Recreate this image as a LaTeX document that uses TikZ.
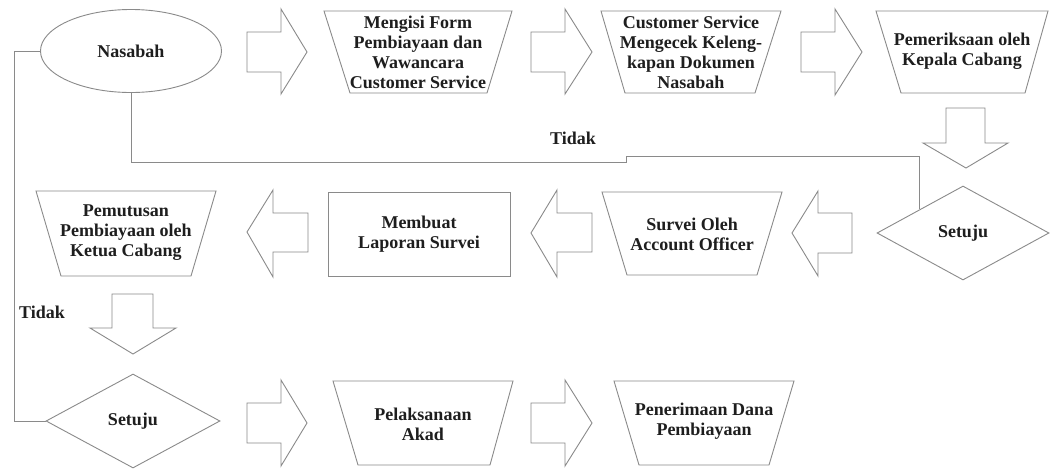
\documentclass[tikz,border=0pt]{standalone}
\usepackage{fontspec}
\setmainfont{Liberation Serif}
\usetikzlibrary{shapes.geometric}
\definecolor{linec}{HTML}{8A8A8A}
\definecolor{textc}{HTML}{1E1E1E}
\tikzset{
  shp/.style={draw=linec, line width=0.9pt, line join=miter},
  conn/.style={draw=linec, line width=0.9pt},
  lbl/.style={text=textc, font=\bfseries\fontsize{18}{20}\selectfont, align=center, inner sep=0pt},
}
\begin{document}
\begin{tikzpicture}[x=1pt,y=-1pt]
\useasboundingbox[fill=white] (0,0) rectangle (1050,469);

% start node
\node[shp, ellipse, minimum width=181pt, minimum height=83pt, inner sep=0pt, lbl] (nas) at (131,51) {Nasabah};

% top row trapezoids
\draw[shp] (324,11) -- (512,11) -- (487,93) -- (350,93) -- cycle;
\node[lbl] (t1) at (418,52) {Mengisi Form\\Pembiayaan dan\\Wawancara\\Customer Service};
\draw[shp] (601,11) -- (781,11) -- (755,93) -- (625,93) -- cycle;
\node[lbl] (t2) at (691,52) {Customer Service\\Mengecek Keleng-\\kapan Dokumen\\Nasabah};
\draw[shp] (876,11) -- (1048,11) -- (1025,93) -- (901,93) -- cycle;
\node[lbl] (t3) at (962,51) {Pemeriksaan oleh\\Kepala Cabang};

% block arrows top row
\draw[shp] (247,32) -- (281,32) -- (281,9) -- (307,52) -- (281,94) -- (281,72) -- (247,72) -- cycle;
\draw[shp] (531,32) -- (565,32) -- (565,9) -- (592,52) -- (565,94) -- (565,72) -- (531,72) -- cycle;
\draw[shp] (801,32) -- (835,32) -- (835,9) -- (862,52) -- (835,95) -- (835,72) -- (801,72) -- cycle;
% down arrow 1
\draw[shp] (946,108) -- (985,108) -- (985,143) -- (1008,143) -- (966,168) -- (923,143) -- (946,143) -- cycle;

% decision 1
\node[shp, diamond, aspect=1.83, minimum width=172pt, minimum height=94pt, inner sep=0pt, lbl] (d1) at (963,233) {Setuju};

% middle row
\draw[shp] (852,213) -- (818,213) -- (818,191) -- (792,233) -- (818,276) -- (818,253) -- (852,253) -- cycle;
\draw[shp] (602,192) -- (782,192) -- (757,275) -- (627,275) -- cycle;
\node[lbl] (t4) at (692,234) {Survei Oleh\\Account Officer};
\draw[shp] (592,213) -- (557,213) -- (557,190) -- (531,233) -- (557,277) -- (557,252) -- (592,252) -- cycle;
\node[shp, rectangle, minimum width=182pt, minimum height=84pt, inner sep=0pt, lbl] (r1) at (419,234) {Membuat\\Laporan Survei};
\draw[shp] (308,213) -- (273,213) -- (273,190) -- (247,232) -- (273,277) -- (273,252) -- (308,252) -- cycle;
\draw[shp] (36,191) -- (216,191) -- (191,276) -- (61,276) -- cycle;
\node[lbl] (t5) at (126,233) {Pemutusan\\Pembiayaan oleh\\Ketua Cabang};

% down arrow 2
\draw[shp] (112,294) -- (153,294) -- (153,328) -- (176,328) -- (133,354) -- (90,328) -- (112,328) -- cycle;

% decision 2
\node[shp, diamond, aspect=1.85, minimum width=174pt, minimum height=94pt, inner sep=0pt, lbl] (d2) at (133,421) {Setuju};

% bottom row
\draw[shp] (247,403) -- (281,403) -- (281,380) -- (307,423) -- (281,466) -- (281,443) -- (247,443) -- cycle;
\draw[shp] (333,381) -- (513,381) -- (490,465) -- (358,465) -- cycle;
\node[lbl] (t6) at (423,424) {Pelaksanaan\\Akad};
\draw[shp] (531,403) -- (565,403) -- (565,380) -- (592,423) -- (565,466) -- (565,443) -- (531,443) -- cycle;
\draw[shp] (614,381) -- (794,381) -- (769,465) -- (639,465) -- cycle;
\node[lbl] (t7) at (704,421) {Penerimaan Dana\\Pembiayaan};

% connectors
\coordinate (k1) at (626,162);
\coordinate (k2) at (d1.north west |- 0,156);
\draw[conn] (nas.south) |- (k1) |- (k2) -- (d1.north west);
\coordinate (k3) at (14,421);
\draw[conn] (d2.west) -- (k3) |- (nas.west);

% labels
\node[lbl] (tidak1) at (573,138) {Tidak};
\node[lbl] (tidak2) at (42,312) {Tidak};
\end{tikzpicture}
\end{document}
